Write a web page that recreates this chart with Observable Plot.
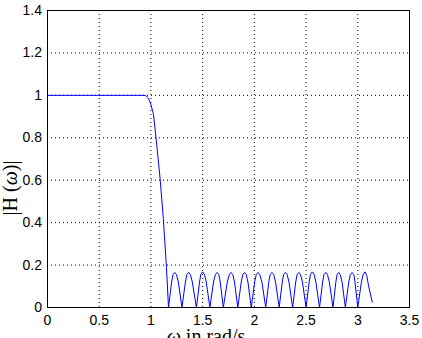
<!DOCTYPE html>
<html>
<head>
<meta charset="utf-8">
<script src="https://cdn.jsdelivr.net/npm/d3@7"></script>
<script src="https://cdn.jsdelivr.net/npm/@observablehq/plot@0.6"></script>
<style>
  html, body { margin: 0; padding: 0; background: white; overflow: hidden; }
  #chart { width: 422px; height: 338px; }
</style>
</head>
<body>
<div id="chart"></div>
<script>
// Frequency (rad/s)
const omega = [0, 0.945, 0.97, 0.995, 1.025, 1.06, 1.09, 1.12, 1.15, 1.17,
  1.20, 1.213, 1.23, 1.247, 1.265, 1.30,
  1.333, 1.348, 1.365, 1.382, 1.40, 1.44,
  1.47, 1.483, 1.50, 1.517, 1.535, 1.57,
  1.605, 1.623, 1.64, 1.657, 1.67, 1.70,
  1.738, 1.758, 1.775, 1.792, 1.808, 1.84,
  1.873, 1.888, 1.905, 1.922, 1.938, 1.97,
  2.003, 2.018, 2.035, 2.052, 2.073, 2.11,
  2.14, 2.153, 2.17, 2.187, 2.205, 2.24,
  2.27, 2.283, 2.30, 2.317, 2.335, 2.37,
  2.40, 2.413, 2.43, 2.447, 2.465, 2.50,
  2.53, 2.543, 2.56, 2.577, 2.595, 2.63,
  2.66, 2.673, 2.69, 2.707, 2.725, 2.76,
  2.788, 2.80, 2.815, 2.83, 2.848, 2.88,
  2.913, 2.928, 2.945, 2.962, 2.973, 3.00,
  3.035, 3.053, 3.07, 3.087, 3.105, 3.14];
// Magnitude |H(w)|
const mag = [1, 1, 0.99, 0.965, 0.91, 0.75, 0.6, 0.42, 0.19, 0,
  0.12, 0.155, 0.165, 0.155, 0.12, 0,
  0.12, 0.155, 0.165, 0.155, 0.12, 0,
  0.12, 0.157, 0.168, 0.157, 0.12, 0,
  0.12, 0.155, 0.165, 0.155, 0.12, 0,
  0.12, 0.155, 0.165, 0.155, 0.12, 0,
  0.12, 0.155, 0.165, 0.155, 0.12, 0,
  0.12, 0.155, 0.165, 0.155, 0.12, 0,
  0.12, 0.155, 0.165, 0.155, 0.12, 0,
  0.12, 0.155, 0.165, 0.155, 0.12, 0,
  0.12, 0.155, 0.165, 0.155, 0.12, 0,
  0.12, 0.157, 0.168, 0.157, 0.12, 0,
  0.12, 0.155, 0.165, 0.155, 0.12, 0,
  0.12, 0.155, 0.165, 0.155, 0.12, 0,
  0.12, 0.155, 0.165, 0.155, 0.12, 0,
  0.12, 0.157, 0.168, 0.15, 0.10, 0.025];

const xTicks = [0, 0.5, 1, 1.5, 2, 2.5, 3, 3.5];
const xTickLabels = ["0", "0.5", "1", "1.5", "2", "2.5", "3", "3.5"];
const yTicks = [0, 0.2, 0.4, 0.6, 0.8, 1, 1.2, 1.4];
const yTickLabels = ["0", "0.2", "0.4", "0.6", "0.8", "1", "1.2", "1.4"];
const xGrid = [0.5, 1, 1.5, 2, 2.5, 3];
const yGrid = [0.2, 0.4, 0.6, 0.8, 1, 1.2];

const data = omega.map((w, i) => ({w, h: mag[i]}));

const plot = Plot.plot({
  width: 422,
  height: 338,
  marginLeft: 47,
  marginRight: 13,
  marginTop: 10,
  marginBottom: 31,
  x: {domain: [0, 3.5]},
  y: {domain: [0, 1.4]},
  style: {fontFamily: "'Liberation Sans', Arial, sans-serif", fontSize: "14px", background: "white", color: "black", overflow: "visible"},
  marks: [
    Plot.gridX(xGrid, {stroke: "black", strokeOpacity: 1, strokeDasharray: "1,3"}),
    Plot.gridY(yGrid, {stroke: "black", strokeOpacity: 1, strokeDasharray: "1,3"}),
    Plot.axisX(xTicks, {tickSize: 0, tickPadding: 8, label: null, tickFormat: d => xTickLabels[xTicks.indexOf(d)], fontSize: 14}),
    Plot.axisY(yTicks, {tickSize: 0, tickPadding: 5.5, label: null, tickFormat: d => yTickLabels[yTicks.indexOf(d)], fontSize: 14}),
    Plot.line(data, {x: "w", y: "h", stroke: "#0000ff", strokeWidth: 1}),
    Plot.frame({stroke: "black", strokeWidth: 1})
  ]
});

document.getElementById("chart").appendChild(plot);

// Axis titles (serif, with italic omega)
const svg = d3.select(plot);
const xl = svg.append("text")
  .attr("x", 206).attr("y", 342.5)
  .attr("text-anchor", "middle")
  .attr("font-family", "'Liberation Serif', 'Times New Roman', serif")
  .attr("font-size", 20)
  .attr("fill", "black");
xl.append("tspan").attr("font-style", "italic").text("ω");
xl.append("tspan").text(" in rad/s");

const yl = svg.append("text")
  .attr("transform", "translate(17,188) rotate(-90)")
  .attr("text-anchor", "middle")
  .attr("font-family", "'Liberation Serif', 'Times New Roman', serif")
  .attr("font-size", 20)
  .attr("fill", "black");
yl.append("tspan").text("|H (");
yl.append("tspan").attr("font-style", "italic").text("ω");
yl.append("tspan").text(")|");
</script>
</body>
</html>
